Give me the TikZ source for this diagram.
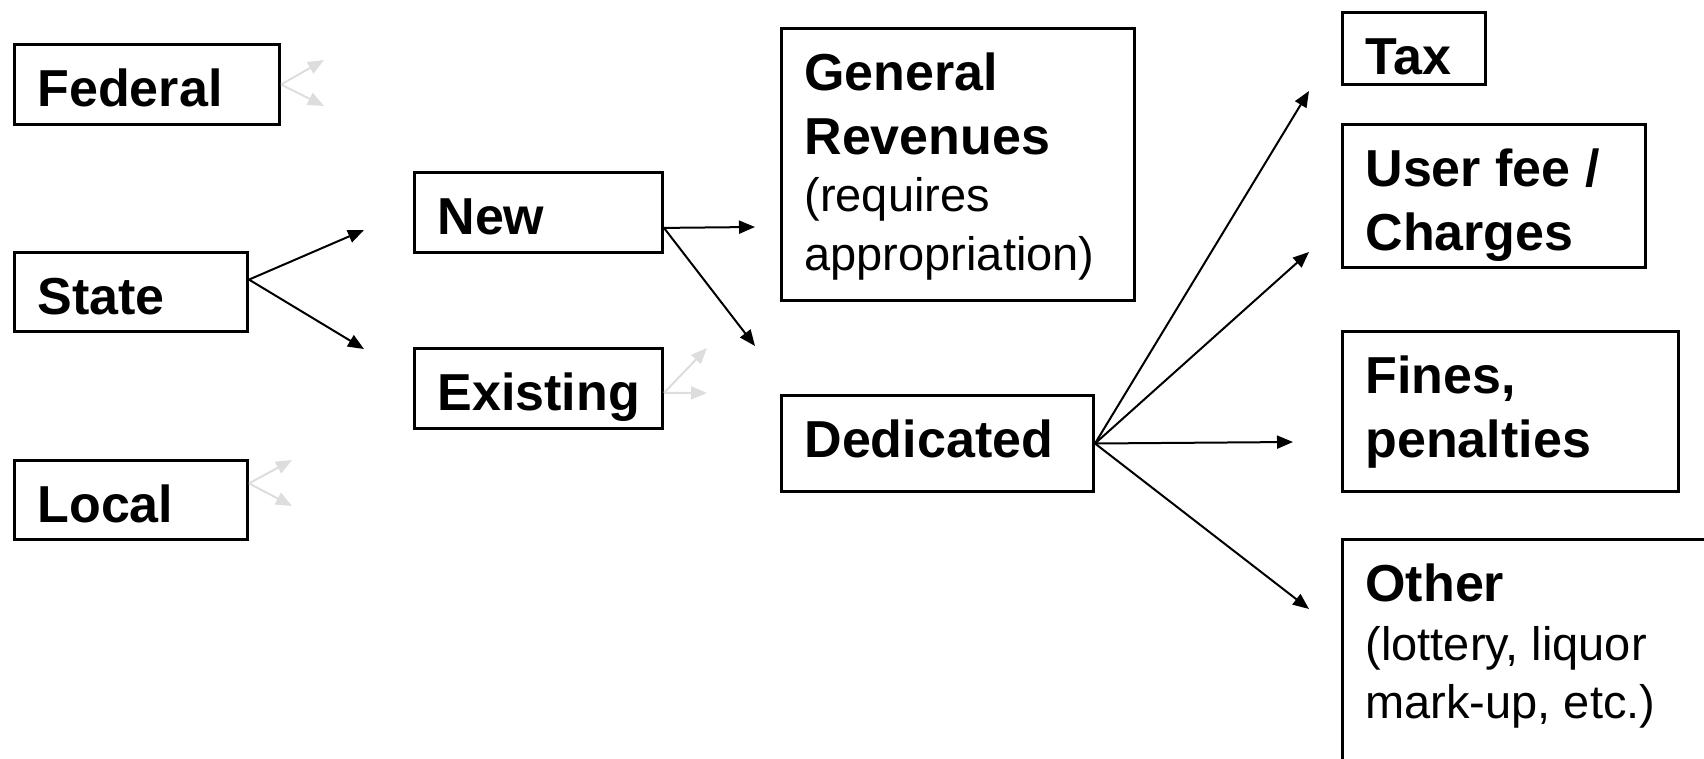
\documentclass[tikz,border=0pt]{standalone}
\usepackage{fontspec}
\setmainfont{Liberation Sans}
\usetikzlibrary{arrows.meta}
\definecolor{fadegray}{RGB}{221,221,221}
\newcommand{\subtxt}{\fontsize{47}{59}\selectfont\mdseries}

\tikzset{
    srcbox/.style={draw, line width=3pt, anchor=north west, align=flush left,
        inner xsep=23pt, inner ysep=0pt, text height=62pt,
        font=\fontsize{52}{64}\selectfont\bfseries},
    flow/.style={-{Triangle[length=16pt,width=13pt]}, line width=2pt},
    fadeflow/.style={flow, draw=fadegray}
}

\begin{document}
\begin{tikzpicture}[x=1pt,y=-1pt]
    \useasboundingbox (0,0) rectangle (1704,759);

    \node [srcbox, text width=219pt, text depth=18pt] (federal) at (13,43) {Federal};
    \node [srcbox, text width=187pt, text depth=17pt] (state) at (13,251) {State};
    \node [srcbox, text width=187pt, text depth=17pt] (local) at (13,459) {Local};

    \node [srcbox, text width=202pt, text depth=18pt] (new) at (413,171) {New};
    \node [srcbox, text width=202pt, text depth=18pt] (existing) at (413,347) {Existing};

    \node [srcbox, text width=307pt, text depth=210pt] (general) at (780,27)
        {General\\Revenues\par\vspace{-2pt} \subtxt (requires\\[-5pt]appropriation)};
    \node [srcbox, text width=266pt, text depth=34pt] (dedicated) at (780,394) {Dedicated};

    \node [srcbox, text width=97pt, text depth=10pt] (tax) at (1341,11) {Tax};
    \node [srcbox, text width=257pt, text depth=81pt] (userfee) at (1341,123) {User fee /\\Charges};
    \node [srcbox, text width=290pt, text depth=98pt] (fines) at (1341,330) {Fines,\\penalties};
    \node [srcbox, text width=354pt, text depth=250pt] (other) at (1341,538)
        {Other\par \subtxt (lottery, liquor\\[-6pt]mark-up, etc.)};

    \coordinate (f1) at (324,60);
    \coordinate (f2) at (324,106);
    \coordinate (s1) at (364,230);
    \coordinate (s2) at (364,349);
    \coordinate (l1) at (292,460);
    \coordinate (l2) at (292,506);
    \coordinate (n1) at (755,227);
    \coordinate (n2) at (755,346);
    \coordinate (e1) at (707,348);
    \coordinate (e2) at (707,393);
    \coordinate (d1) at (1309,91);
    \coordinate (d2) at (1309,252);
    \coordinate (d3) at (1293,442);
    \coordinate (d4) at (1309,609);

    \draw [fadeflow] (federal.east) -- (f1);
    \draw [fadeflow] (federal.east) -- (f2);
    \draw [flow] (state.6) -- (s1);
    \draw [flow] (state.6) -- (s2);
    \draw [fadeflow] (local.8) -- (l1);
    \draw [fadeflow] (local.8) -- (l2);

    \draw [flow] (new.-7) -- (n1);
    \draw [flow] (new.-7) -- (n2);
    \draw [fadeflow] (existing.-2) -- (e1);
    \draw [fadeflow] (existing.-2) -- (e2);

    \draw [flow] (dedicated.east) -- (d1);
    \draw [flow] (dedicated.east) -- (d2);
    \draw [flow] (dedicated.east) -- (d3);
    \draw [flow] (dedicated.east) -- (d4);
\end{tikzpicture}
\end{document}
